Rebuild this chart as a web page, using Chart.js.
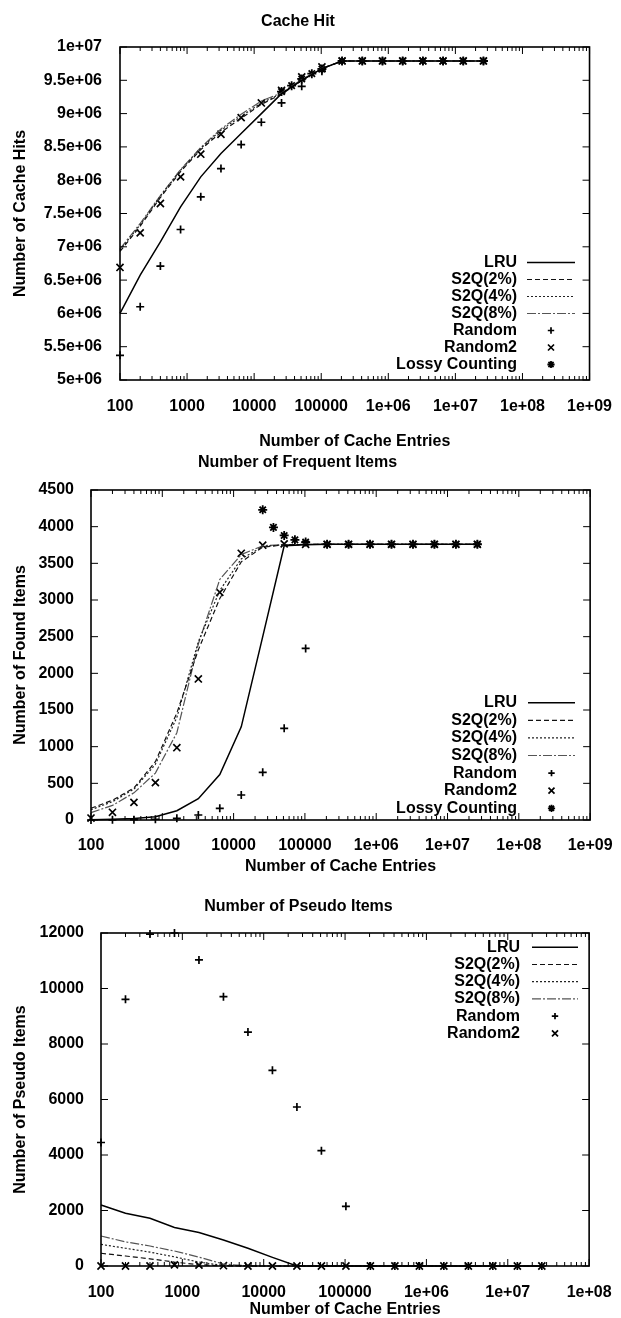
<!DOCTYPE html>
<html><head><meta charset="utf-8">
<script src="https://cdn.jsdelivr.net/npm/chart.js@4.4.1/dist/chart.umd.min.js"></script>
<style>
html,body{margin:0;padding:0;background:#fff;overflow:hidden;width:621px;height:1318px;}
canvas{position:absolute;left:0;}
</style></head><body>
<canvas id="c1" width="621" height="455" style="top:0px;width:621px;height:455px"></canvas>
<canvas id="c2" width="621" height="433" style="top:445px;width:621px;height:433px"></canvas>
<canvas id="c3" width="621" height="450" style="top:878px;width:621px;height:450px"></canvas>
<script>
// ---------------- data ----------------
const cacheEntries = [100,200,400,800,1600,3200,6400,12800,25600,51200,102400,204800,409600,819200,1638400,3276800,6553600,13107200,26214400];
const lossyEntries = [25600,36204,51200,72408,102400,204800,409600,819200,1638400,3276800,6553600,13107200,26214400];

const xTickValues9 = [100,1e3,1e4,1e5,1e6,1e7,1e8,1e9];
const xTickLabels9 = ["100","1000","10000","100000","1e+06","1e+07","1e+08","1e+09"];
const xTickValues8 = [100,1e3,1e4,1e5,1e6,1e7,1e8];
const xTickLabels8 = ["100","1000","10000","100000","1e+06","1e+07","1e+08"];

const hitTickValues = [5e6,5.5e6,6e6,6.5e6,7e6,7.5e6,8e6,8.5e6,9e6,9.5e6,1e7];
const hitTickLabels = ["5e+06","5.5e+06","6e+06","6.5e+06","7e+06","7.5e+06","8e+06","8.5e+06","9e+06","9.5e+06","1e+07"];
const foundTickValues = [0,500,1000,1500,2000,2500,3000,3500,4000,4500];
const foundTickLabels = ["0","500","1000","1500","2000","2500","3000","3500","4000","4500"];
const pseudoTickValues = [0,2000,4000,6000,8000,10000,12000];
const pseudoTickLabels = ["0","2000","4000","6000","8000","10000","12000"];

// Chart 1: Cache Hit
const hitLRU     = [6.00e6,6.575e6,7.075e6,7.60e6,8.05e6,8.40e6,8.70e6,9.00e6,9.30e6,9.50e6,9.675e6,9.79e6,9.79e6,9.79e6,9.79e6,9.79e6,9.79e6,9.79e6,9.79e6];
const hitS2Q2    = [6.93e6,7.31e6,7.74e6,8.13e6,8.46e6,8.72e6,8.93e6,9.14e6,9.29e6,9.50e6,9.675e6,9.79e6,9.79e6,9.79e6,9.79e6,9.79e6,9.79e6,9.79e6,9.79e6];
const hitS2Q4    = [6.95e6,7.33e6,7.76e6,8.15e6,8.48e6,8.75e6,8.96e6,9.16e6,9.30e6,9.50e6,9.675e6,9.79e6,9.79e6,9.79e6,9.79e6,9.79e6,9.79e6,9.79e6,9.79e6];
const hitS2Q8    = [6.97e6,7.35e6,7.77e6,8.16e6,8.49e6,8.77e6,8.99e6,9.19e6,9.31e6,9.51e6,9.68e6,9.79e6,9.79e6,9.79e6,9.79e6,9.79e6,9.79e6,9.79e6,9.79e6];
const hitRandom  = [5.37e6,6.10e6,6.71e6,7.26e6,7.75e6,8.175e6,8.535e6,8.87e6,9.16e6,9.41e6,9.635e6,9.79e6,9.79e6,9.79e6,9.79e6,9.79e6,9.79e6,9.79e6,9.79e6];
const hitRandom2 = [6.69e6,7.21e6,7.65e6,8.05e6,8.39e6,8.69e6,8.94e6,9.16e6,9.35e6,9.55e6,9.70e6,9.79e6,9.79e6,9.79e6,9.79e6,9.79e6,9.79e6,9.79e6,9.79e6];
const hitLossy   = [9.33e6,9.42e6,9.52e6,9.60e6,9.67e6,9.79e6,9.79e6,9.79e6,9.79e6,9.79e6,9.79e6,9.79e6,9.79e6];

// Chart 2: Number of Frequent Items
const freqLRU     = [5,10,20,45,127,290,620,1270,2500,3740,3755,3760,3760,3760,3760,3760,3760,3760,3760];
const freqS2Q2    = [160,270,436,795,1460,2320,3020,3520,3720,3752,3758,3760,3760,3760,3760,3760,3760,3760,3760];
const freqS2Q4    = [140,250,420,760,1400,2430,3130,3560,3730,3752,3758,3760,3760,3760,3760,3760,3760,3760,3760];
const freqS2Q8    = [100,200,370,640,1190,2400,3280,3620,3740,3755,3758,3760,3760,3760,3760,3760,3760,3760,3760];
const freqRandom  = [0,2,5,10,23,68,159,341,650,1250,2340,3760,3760,3760,3760,3760,3760,3760,3760];
const freqRandom2 = [27,105,241,509,986,1923,3105,3637,3747,3765,3760,3760,3760,3760,3760,3760,3760,3760,3760];
const freqLossy   = [4230,3990,3880,3820,3790,3760,3760,3760,3760,3760,3760,3760,3760];

// Chart 3: Number of Pseudo Items
const pseudoLRU     = [2200,1900,1720,1390,1210,940,640,310,0,0,0,0,0,0,0,0,0,0,0];
const pseudoS2Q2    = [460,360,260,140,50,5,0,0,0,0,0,0,0,0,0,0,0,0,0];
const pseudoS2Q4    = [780,640,500,330,140,20,0,0,0,0,0,0,0,0,0,0,0,0,0];
const pseudoS2Q8    = [1080,870,720,540,320,70,5,0,0,0,0,0,0,0,0,0,0,0,0];
const pseudoRandom  = [4450,9610,11960,12000,11030,9705,8430,7050,5730,4155,2150,0,0,0,0,0,0,0,0];
const pseudoRandom2 = [0,0,0,40,30,10,0,0,0,0,0,0,0,0,0,0,0,0,0];

// ---------------- helpers ----------------
const FONT = '"Liberation Sans", Arial, Helvetica, sans-serif';
const WEIGHT = 'bold';
const pts = (xs, ys) => xs.map((x, i) => ({x: x, y: ys[i]}));

function lineDS(label, xs, ys, dash, color, width) {
  return {label, data: pts(xs, ys), showLine: true, borderColor: color, backgroundColor: color,
    borderWidth: width, borderDash: dash, pointRadius: 0, pointHoverRadius: 0, tension: 0, clip: 4};
}
function pointDS(label, xs, ys, style, radius, bw) {
  return {label, data: pts(xs, ys), showLine: false, borderColor: '#000', backgroundColor: '#000',
    pointStyle: style, pointRadius: radius, pointBorderWidth: bw, borderWidth: bw, clip: 6};
}

function drawMarker(ctx, style, x, y, r) {
  ctx.beginPath();
  const d = r * Math.SQRT1_2;
  if (style === 'cross' || style === 'star') {
    ctx.moveTo(x - r, y); ctx.lineTo(x + r, y);
    ctx.moveTo(x, y - r); ctx.lineTo(x, y + r);
  }
  if (style === 'crossRot' || style === 'star') {
    ctx.moveTo(x - d, y - d); ctx.lineTo(x + d, y + d);
    ctx.moveTo(x - d, y + d); ctx.lineTo(x + d, y - d);
  }
  ctx.stroke();
}

const framePlugin = {
  id: 'frame',
  afterDatasetsDraw(chart) {
    const {ctx, chartArea: a} = chart;
    const x = chart.scales.x, y = chart.scales.y;
    ctx.save();
    ctx.strokeStyle = '#000';
    ctx.lineWidth = 1;
    ctx.beginPath();
    for (let e = Math.round(Math.log10(x.min)); Math.pow(10, e) <= x.max; e++) {
      for (let k = 1; k < 10; k++) {
        const v = k * Math.pow(10, e);
        if (v < x.min || v > x.max) continue;
        const px = x.getPixelForValue(v);
        const L = k === 1 ? 7 : 4;
        ctx.moveTo(px, a.bottom); ctx.lineTo(px, a.bottom - L);
        ctx.moveTo(px, a.top); ctx.lineTo(px, a.top + L);
      }
    }
    y.ticks.forEach(t => {
      const py = y.getPixelForValue(t.value);
      ctx.moveTo(a.left, py); ctx.lineTo(a.left + 7, py);
      ctx.moveTo(a.right, py); ctx.lineTo(a.right - 7, py);
    });
    ctx.stroke();
    ctx.lineWidth = 1.6;
    ctx.strokeRect(a.left, a.top, a.right - a.left, a.bottom - a.top);
    ctx.restore();
  }
};

const legendPlugin = {
  id: 'gnuLegend',
  afterDraw(chart, args, opts) {
    const ctx = chart.ctx;
    ctx.save();
    ctx.font = WEIGHT + ' 16px ' + FONT;
    ctx.fillStyle = '#000';
    ctx.textAlign = 'right';
    ctx.textBaseline = 'middle';
    chart.data.datasets.forEach((ds, i) => {
      const yy = opts.top + i * opts.rowH;
      ctx.fillText(ds.label, opts.textRight, yy);
      ctx.strokeStyle = ds.borderColor;
      if (ds.showLine) {
        ctx.lineWidth = ds.borderWidth;
        ctx.setLineDash(ds.borderDash || []);
        ctx.beginPath();
        ctx.moveTo(opts.s0, yy); ctx.lineTo(opts.s1, yy);
        ctx.stroke();
        ctx.setLineDash([]);
      } else {
        ctx.lineWidth = ds.pointBorderWidth;
        drawMarker(ctx, ds.pointStyle, (opts.s0 + opts.s1) / 2, yy, ds.pointRadius * (ds.pointStyle === 'crossRot' ? 0.85 : 0.8));
      }
    });
    ctx.restore();
  }
};

function makeChart(id, c) {
  const f = {family: FONT, size: 16, weight: WEIGHT, lineHeight: 1.2};
  return new Chart(document.getElementById(id), {
    type: 'scatter',
    data: {datasets: c.datasets},
    plugins: [framePlugin, legendPlugin],
    options: {
      responsive: false, animation: false, events: [],
      devicePixelRatio: 1,
      layout: {padding: {top: 0, left: 0, right: c.padRight, bottom: 0}},
      plugins: {
        legend: {display: false},
        tooltip: {enabled: false},
        title: {display: true, text: c.title, color: '#000', font: f,
          padding: {top: c.titleTop, bottom: c.titleBottom}},
        gnuLegend: c.legend
      },
      scales: {
        x: {
          type: 'logarithmic', position: 'bottom', min: c.xTicks[0], max: c.xTicks[c.xTicks.length - 1],
          grid: {display: false}, border: {display: false},
          afterBuildTicks: s => { s.ticks = c.xTicks.map(v => ({value: v})); },
          afterFit: s => { s.height = c.xHeight; },
          ticks: {color: '#000', font: f, padding: c.xTickPad,
            autoSkip: false, maxRotation: 0, minRotation: 0,
            callback: (v, i) => c.xLabels[i]},
          title: {display: true, text: 'Number of Cache Entries', color: '#000',
            font: f, padding: {top: 0, bottom: c.xTitlePad}}
        },
        y: {
          type: 'linear', position: 'left', min: c.yTicks[0], max: c.yTicks[c.yTicks.length - 1],
          grid: {display: false}, border: {display: false},
          afterBuildTicks: s => { s.ticks = c.yTicks.map(v => ({value: v})); },
          afterFit: s => { s.width = c.yWidth; },
          ticks: {color: '#000', font: f, padding: c.yTickPad,
            autoSkip: false, callback: (v, i) => c.yLabels[i]},
          title: {display: true, text: c.yTitle, color: '#000',
            font: f, padding: {top: 11, bottom: 0}}
        }
      }
    }
  });
}

function seriesSet(xsLine, lru, s2, s4, s8, rnd, rnd2) {
  return [
    lineDS('LRU', xsLine, lru, [], '#000', 1.5),
    lineDS('S2Q(2%)', xsLine, s2, [5, 3], '#111', 1.2),
    lineDS('S2Q(4%)', xsLine, s4, [2, 2], '#222', 1.2),
    lineDS('S2Q(8%)', xsLine, s8, [9, 2, 2, 2], '#555', 1.2),
    pointDS('Random', xsLine, rnd, 'cross', 4, 1.7),
    pointDS('Random2', xsLine, rnd2, 'crossRot', 5, 1.7)
  ];
}

const ds1 = seriesSet(cacheEntries, hitLRU, hitS2Q2, hitS2Q4, hitS2Q8, hitRandom, hitRandom2);
ds1.push(pointDS('Lossy Counting', lossyEntries, hitLossy, 'star', 4.5, 1.8));
makeChart('c1', {
  datasets: ds1, title: 'Cache Hit', yTitle: 'Number of Cache Hits',
  xTicks: xTickValues9, xLabels: xTickLabels9, yTicks: hitTickValues, yLabels: hitTickLabels,
  padRight: 25, titleTop: 12.4, titleBottom: 15.4, xHeight: 75, xTickPad: 9, xTitlePad: 3.4,
  yWidth: 120, yTickPad: 10,
  legend: {top: 262.5, rowH: 17, textRight: 517, s0: 527, s1: 575}
});

const ds2 = seriesSet(cacheEntries, freqLRU, freqS2Q2, freqS2Q4, freqS2Q8, freqRandom, freqRandom2);
ds2.push(pointDS('Lossy Counting', lossyEntries, freqLossy, 'star', 4.5, 1.8));
makeChart('c2', {
  datasets: ds2, title: 'Number of Frequent Items', yTitle: 'Number of Found Items',
  xTicks: xTickValues9, xLabels: xTickLabels9, yTicks: foundTickValues, yLabels: foundTickLabels,
  padRight: 26, titleTop: 8.4, titleBottom: 17.4, xHeight: 58, xTickPad: 8.4, xTitlePad: 1.4,
  yWidth: 91, yTickPad: 9,
  legend: {top: 257.7, rowH: 17.6, textRight: 517, s0: 528, s1: 575}
});

const ds3 = seriesSet(cacheEntries, pseudoLRU, pseudoS2Q2, pseudoS2Q4, pseudoS2Q8, pseudoRandom, pseudoRandom2);
makeChart('c3', {
  datasets: ds3, title: 'Number of Pseudo Items', yTitle: 'Number of Pseudo Items',
  xTicks: xTickValues8, xLabels: xTickLabels8, yTicks: pseudoTickValues, yLabels: pseudoTickLabels,
  padRight: 24, titleTop: 19.4, titleBottom: 16.4, xHeight: 62, xTickPad: 9.4, xTitlePad: 8.4,
  yWidth: 101, yTickPad: 9,
  legend: {top: 69.3, rowH: 17.2, textRight: 520, s0: 532, s1: 578}
});
</script>
</body></html>
